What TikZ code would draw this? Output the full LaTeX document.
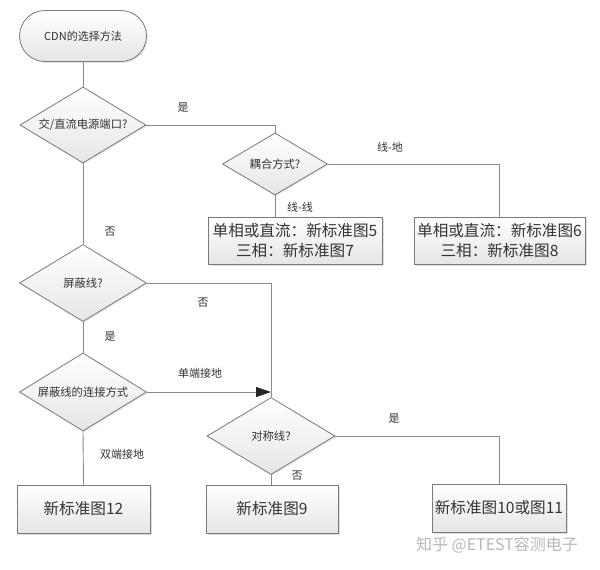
\documentclass[tikz,border=0pt]{standalone}
\usepackage{fontspec}
\setmainfont{Noto Sans CJK SC}
\usetikzlibrary{shapes.geometric,shapes.misc,shadows,arrows.meta}
\definecolor{lineg}{HTML}{8A8A8A}
\definecolor{edgeg}{HTML}{7A7A7A}
\definecolor{txt}{HTML}{333333}
\begin{document}
\begin{tikzpicture}[x=1pt,y=-1pt,
  every node/.style={text=txt},
  conn/.style={draw=lineg,line width=0.9pt},
  startbox/.style={rounded rectangle,draw=edgeg,line width=0.8pt,top color=white,bottom color=black!10,
     minimum width=127pt,minimum height=51pt,inner sep=0pt,font=\fontsize{11}{13}\selectfont,
     drop shadow={shadow xshift=1.2pt,shadow yshift=-1.2pt,opacity=0.25}},
  decide/.style={diamond,aspect=1.67,draw=edgeg,line width=0.8pt,top color=white,bottom color=black!10,
     inner sep=0.5pt,font=\fontsize{11.3}{13}\selectfont,
     drop shadow={shadow xshift=1.2pt,shadow yshift=-1.2pt,opacity=0.2}},
  result/.style={rectangle,draw=edgeg,line width=0.8pt,top color=white,bottom color=black!10,
     inner sep=0pt,align=center,font=\fontsize{15.6}{20}\selectfont,
     drop shadow={shadow xshift=1.5pt,shadow yshift=-1.5pt,opacity=0.25}},
  lbl/.style={font=\fontsize{11}{12}\selectfont,inner sep=0pt}
]
\useasboundingbox[fill=white] (0,0) rectangle (600,570);

\node[startbox] (start) at (83,36) {CDN的选择方法};
\node[decide,minimum width=126pt,minimum height=76pt] (d1) at (83,125) {交/直流电源端口?};
\node[decide,minimum width=105pt,minimum height=62pt] (d2) at (275,164) {耦合方式?};
\node[result,minimum width=174pt,minimum height=47pt] (b1) at (295,240.5) {单相或直流：新标准图5\\三相：新标准图7};
\node[result,minimum width=171pt,minimum height=47pt] (b2) at (499.5,240.5) {单相或直流：新标准图6\\三相：新标准图8};
\node[decide,minimum width=127pt,minimum height=77pt] (d3) at (83,283) {屏蔽线?};
\node[decide,minimum width=127pt,minimum height=78pt] (d4) at (83,392) {屏蔽线的连接方式};
\node[decide,minimum width=128pt,minimum height=77pt] (d5) at (271,436) {对称线?};
\node[result,minimum width=133pt,minimum height=48pt] (b3) at (83.5,509) {新标准图12};
\node[result,minimum width=132pt,minimum height=48pt] (b4) at (272,509) {新标准图9};
\node[result,minimum width=134pt,minimum height=48pt] (b5) at (499,508) {新标准图10或图11};
\coordinate (j) at (271,392);

\draw[conn] (start.south) -- (d1.north);
\draw[conn] (d1.east) -| (d2.north);
\draw[conn] (d2.east) -| (b2.north);
\draw[conn] (d2.south) -- (d2.south |- b1.north);
\draw[conn] (d1.south) -- (d3.north);
\draw[conn] (d3.east) -| (j);
\draw[conn] (d3.south) -- (d4.north);
\draw[conn,-{Triangle[length=15pt,width=10pt,color=black!85]}] (d4.east) -- (j);
\draw[conn] (j) -- (d5.north);
\draw[conn] (d5.east) -| (b5.north);
\draw[conn] (d5.south) -- (d5.south |- b4.north);
\draw[conn] (d4.south) -- (b3.north);

\node[lbl] (l1) at (183,108) {是};
\node[lbl] (l2) at (390,147) {线-地};
\node[lbl] (l3) at (300,207) {线-线};
\node[lbl] (l4) at (110,232) {否};
\node[lbl] (l5) at (203,303) {否};
\node[lbl] (l6) at (110,337) {是};
\node[lbl] (l7) at (200,373) {单端接地};
\node[lbl] (l8) at (122,454) {双端接地};
\node[lbl] (l9) at (394,419) {是};
\node[lbl] (l10) at (297,476) {否};

\node[font=\fontsize{16}{18}\selectfont,text=black!28,inner sep=0pt] (wm) at (497,545) {知乎 @ETEST容测电子};
\end{tikzpicture}
\end{document}
